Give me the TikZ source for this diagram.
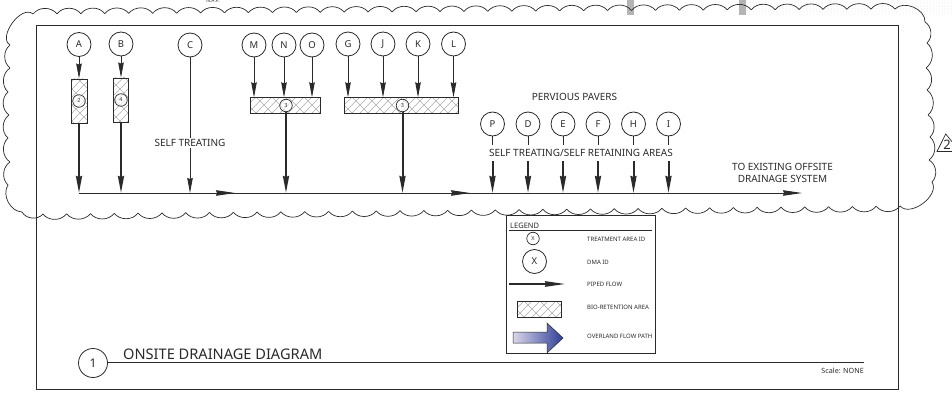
\documentclass[tikz,border=0pt]{standalone}
\usepackage{fontspec}
\setmainfont{Noto Sans}
\usetikzlibrary{arrows.meta,patterns}
\definecolor{Ink}{HTML}{2A2A2A}
\definecolor{Hatch}{HTML}{ADADAD}
\definecolor{Screen}{HTML}{B4B4B4}
\definecolor{FlowDark}{HTML}{2F3F96}
\definecolor{FlowLight}{HTML}{D9D6EA}
\pgfdeclarepatternformonly{BrickHatch}{\pgfqpoint{-1pt}{-1pt}}{\pgfqpoint{17pt}{17pt}}{\pgfqpoint{16pt}{16pt}}{%
\pgfsetlinewidth{0.5pt}
\pgfpathmoveto{\pgfqpoint{0pt}{0pt}}\pgfpathlineto{\pgfqpoint{16pt}{16pt}}
\pgfpathmoveto{\pgfqpoint{8pt}{0pt}}\pgfpathlineto{\pgfqpoint{16pt}{8pt}}
\pgfpathmoveto{\pgfqpoint{0pt}{8pt}}\pgfpathlineto{\pgfqpoint{8pt}{16pt}}
\pgfpathmoveto{\pgfqpoint{4pt}{4pt}}\pgfpathlineto{\pgfqpoint{8pt}{0pt}}
\pgfpathmoveto{\pgfqpoint{12pt}{12pt}}\pgfpathlineto{\pgfqpoint{16pt}{8pt}}
\pgfpathmoveto{\pgfqpoint{0pt}{8pt}}\pgfpathlineto{\pgfqpoint{4pt}{4pt}}
\pgfpathmoveto{\pgfqpoint{8pt}{16pt}}\pgfpathlineto{\pgfqpoint{12pt}{12pt}}
\pgfusepath{stroke}}
\tikzset{
  dma/.style={circle,draw=Ink,line width=0.8pt,minimum size=24pt,inner sep=0pt,fill=white,font=\fontsize{9.5}{10}\selectfont,text=Ink},
  area/.style={circle,draw=Ink,line width=0.7pt,minimum size=12.5pt,inner sep=0pt,fill=white,fill opacity=0.6,text opacity=1,font=\fontsize{5.5}{6}\selectfont,text=Ink},
  biobox/.style={draw=Ink,line width=0.8pt,pattern=BrickHatch,pattern color=Hatch,inner sep=0pt},
  pipe/.style={draw=Ink,line width=0.8pt,-{Stealth[length=15pt,width=5.5pt,inset=1pt]}},
  thickpipe/.style={draw=Ink,line width=2pt,-{Stealth[length=17pt,width=6pt,inset=1pt]}},
  mainpipe/.style={draw=Ink,line width=0.9pt,-{Stealth[length=19pt,width=5.5pt,inset=1pt]}},
  stub/.style={draw=Ink,line width=0.8pt},
  note/.style={font=\fontsize{10}{12.5}\selectfont,text=Ink,align=center,inner sep=1pt},
  legendtext/.style={anchor=west,font=\fontsize{6}{7}\selectfont,text=Ink,inner sep=0pt},
  cloud/.style={draw=Ink,line width=0.7pt}
}
\begin{document}
\begin{tikzpicture}[x=1pt,y=-1pt]
\useasboundingbox (0,0) rectangle (952,393);
\clip (0,0) rectangle (952,393);
% sheet leftovers along the top
\fill[Screen] (627,0) rectangle (633.5,15);
\fill[Screen] (739,0) rectangle (746,15);
\fill[pattern=dots,pattern color=Screen!45] (746,0) rectangle (952,15);
\node[font=\fontsize{5}{6}\selectfont,text=Ink] (naf) at (213,0.5) {N.A.P.};
% frame
\draw[Ink,line width=0.8pt] (36.5,229) -- (36.5,25.5) -- (898.5,25.5) -- (898.5,389) -- (36.5,389) -- (36.5,229);
% revision cloud
\foreach \xa/\ya/\xb/\yb in {10/45/33/14}
  \draw[cloud] (\xa,\ya) to[bend left=95] (\xb,\yb);
\foreach \i in {0,...,35}
  \draw[cloud] ({33+\i*23.94},{14-\i*0.139}) to[bend left=52] ({33+(\i+1)*23.94},{14-(\i+1)*0.139});
\draw[cloud] (895,9) to[bend left=70] (925,22);
\foreach \xa/\ya/\xb/\yb in {925/22/927/43,927/43/926/68,926/68/927/90,927/90/928/115,928/115/930/137,930/137/929/160,929/160/932/182}
  \draw[cloud] (\xa,\ya) to[bend left=52] (\xb,\yb);
\draw[cloud] (932,182) to[bend left=85] (900,206);
\foreach \i in {0,...,35}
  \draw[cloud] ({900-\i*23.81},{206+\i*0.222}) to[bend left=52] ({900-(\i+1)*23.81},{206+(\i+1)*0.222});
\draw[cloud] (43,214) to[bend left=55] (22,212);
\draw[cloud] (22,212) to[bend left=60] (8,185);
\foreach \xa/\ya/\xb/\yb in {8/185/10/162,10/162/8/138,8/138/9/115,9/115/8/92,8/92/10/68,10/68/10/45}
  \draw[cloud] (\xa,\ya) to[bend left=52] (\xb,\yb);
% revision mark
\coordinate (revA) at (945.7,134);
\coordinate (revB) at (937,151.5);
\coordinate (revC) at (960,151.5);
\draw[Ink,line width=0.7pt] (revC) -- (revA) -- (revB) -- (revC);
\node[font=\fontsize{13}{14}\selectfont,text=Ink,inner sep=0pt] (rev) at (947,145) {2};
% main line
\coordinate (mainA) at (79,193);
\coordinate (mainB) at (235,193);
\coordinate (mainC) at (470,193);
\coordinate (mainD) at (802,193);
\draw[mainpipe] (mainA) -- (mainD);
\draw[mainpipe] (mainA) -- (mainB);
\draw[mainpipe] (mainB) -- (mainC);
% dma circles
\node[dma] (A) at (79,44.5) {A};
\node[dma] (B) at (121,44) {B};
\node[dma] (C) at (190,45) {C};
\node[dma] (M) at (254,45) {M};
\node[dma] (N) at (284,45) {N};
\node[dma] (O) at (312,45) {O};
\node[dma] (G) at (348,44) {G};
\node[dma] (J) at (383,44) {J};
\node[dma] (K) at (418,44) {K};
\node[dma] (L) at (453.5,44) {L};
\node[dma] (P) at (492.5,124) {P};
\node[dma] (D) at (528,124) {D};
\node[dma] (E) at (563,124) {E};
\node[dma] (F) at (598,124) {F};
\node[dma] (H) at (633.5,124) {H};
\node[dma] (I) at (668.5,124) {I};
% bio-retention areas
\node[biobox,minimum width=16pt,minimum height=44pt] (boxA) at (79,101) {};
\node[biobox,minimum width=15.5pt,minimum height=44pt] (boxB) at (121,100) {};
\node[biobox,minimum width=70pt,minimum height=15.5pt] (boxC) at (285.5,105.5) {};
\node[biobox,minimum width=114pt,minimum height=15.5pt] (boxD) at (401.5,105.5) {};
\node[area] (areaA) at (79,101) {2};
\node[area] (areaB) at (121,100) {4};
\node[area] (areaC) at (286,105.5) {3};
\node[area] (areaD) at (402.5,105.5) {3};
% flows into the boxes
\draw[pipe] (A) -- (boxA);
\draw[pipe] (B) -- (boxB);
\draw[pipe] (M.south) -- (M.south |- boxC.north);
\draw[pipe] (N.south) -- (N.south |- boxC.north);
\draw[pipe] (O.south) -- (O.south |- boxC.north);
\draw[pipe] (G.south) -- (G.south |- boxD.north);
\draw[pipe] (J.south) -- (J.south |- boxD.north);
\draw[pipe] (K.south) -- (K.south |- boxD.north);
\draw[pipe] (L.south) -- (L.south |- boxD.north);
% flows out to the main line
\draw[thickpipe] (boxA) -- (boxA |- mainA);
\draw[thickpipe] (boxB) -- (boxB |- mainA);
\draw[thickpipe] (areaC.south) -- (areaC.south |- mainA);
\draw[thickpipe] (areaD.south) -- (areaD.south |- mainA);
\draw[pipe] (C) -- (C |- mainA);
\node[note,fill=white] (selftreat) at (190,143) {SELF TREATING};
% self treating areas
\foreach \nm/\nx in {P/492.5,D/528,E/563,F/598,H/633.5,I/668.5}{
  \coordinate (\nm a) at (\nx,145);
  \coordinate (\nm b) at (\nx,161);
  \draw[stub] (\nm) -- (\nm a);
  \draw[thickpipe] (\nm b) -- (\nm b |- mainA);
}
\node[note] (pavers) at (574.5,97) {PERVIOUS PAVERS};
\node[note] (selfareas) at (581,153) {SELF TREATING/SELF RETAINING AREAS};
\node[note] (offsite) at (782.5,173) {TO EXISTING OFFSITE\\DRAINAGE SYSTEM};
% legend
\node[draw=Ink,line width=0.8pt,fill=white,minimum width=149pt,minimum height=138pt,inner sep=0pt] (legend) at (580.5,284.5) {};
\node[font=\fontsize{7.5}{9}\selectfont,text=Ink,inner sep=0pt,anchor=west] (legendtitle) at (510,225.5) {LEGEND};
\coordinate (ruleA) at (509,230.7);
\coordinate (ruleB) at (652,230.7);
\draw[Ink,line width=0.7pt] (ruleA) -- (ruleB);
\node[area,fill opacity=1] (legendarea) at (533,238.5) {X};
\node[dma] (legenddma) at (534.5,261.5) {X};
\coordinate (pipedA) at (509,284);
\coordinate (pipedB) at (565,284);
\draw[Ink,line width=1.5pt,-{Stealth[length=20pt,width=5.5pt,inset=1pt]}] (pipedA) -- (pipedB);
\node[biobox,minimum width=44pt,minimum height=16pt] (legendbox) at (539,309) {};
\shade[left color=FlowLight,right color=FlowDark,draw=Ink,line width=0.5pt] (513,332) -- (547,332) -- (547,323) -- (563,338) -- (547,353) -- (547,343) -- (513,343) -- cycle;
\node[legendtext] (legendA) at (587,239) {TREATMENT AREA ID};
\node[legendtext] (legendB) at (587,262) {DMA ID};
\node[legendtext] (legendC) at (587,284.5) {PIPED FLOW};
\node[legendtext] (legendD) at (587,307.5) {BIO-RETENTION AREA};
\node[legendtext] (legendE) at (587,336) {OVERLAND FLOW PATH};
% title block
\node[circle,draw=Ink,line width=0.8pt,minimum size=29pt,inner sep=0pt,font=\fontsize{12}{14}\selectfont,text=Ink] (title) at (93,363) {1};
\coordinate (titleend) at (864,362.5);
\draw[Ink,line width=0.8pt] (title.east |- titleend) -- (titleend);
\node[anchor=west,font=\fontsize{14.6}{16}\selectfont,text=Ink,inner sep=0pt] (titletext) at (123,354) {ONSITE DRAINAGE DIAGRAM};
\node[anchor=east,font=\fontsize{7.2}{8}\selectfont,text=Ink,inner sep=0pt] (scale) at (864,370.5) {Scale: NONE};
\end{tikzpicture}
\end{document}
